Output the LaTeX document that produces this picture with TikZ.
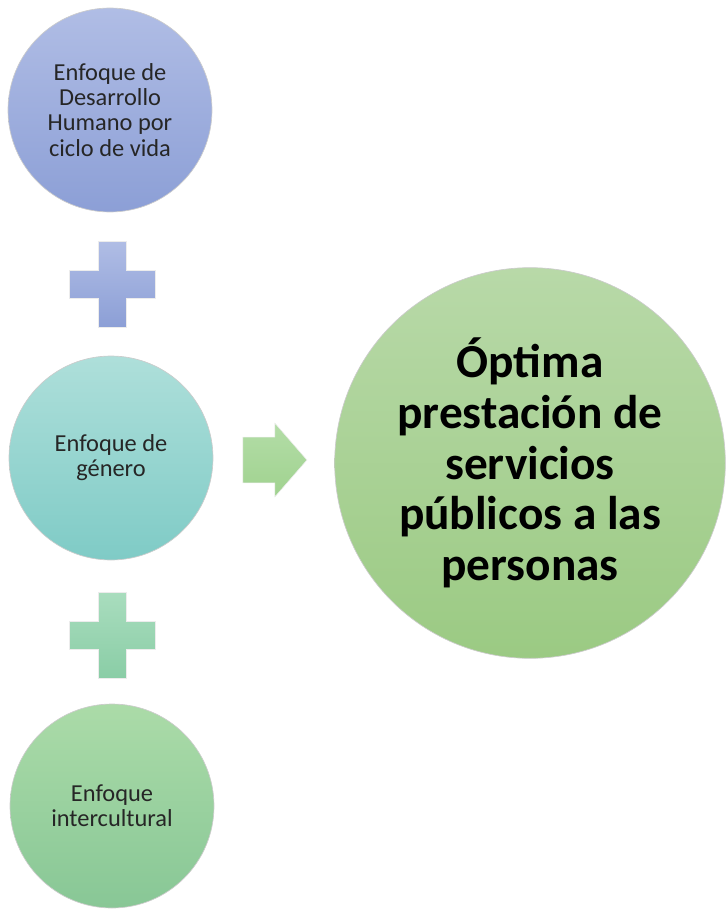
\documentclass[tikz,border=0pt]{standalone}
\usepackage{fontspec}
\setmainfont{Carlito}
\usetikzlibrary{positioning,shapes.arrows}

\definecolor{blueTop}{HTML}{B0BDE5}
\definecolor{blueBot}{HTML}{8C9FD6}
\definecolor{tealTop}{HTML}{AEDFDA}
\definecolor{tealBot}{HTML}{7FCBC6}
\definecolor{mintTop}{HTML}{A9DDBE}
\definecolor{mintBot}{HTML}{8ACDA6}
\definecolor{greenTop}{HTML}{ABDBA8}
\definecolor{greenBot}{HTML}{88C796}
\definecolor{goalTop}{HTML}{B8D9A8}
\definecolor{goalBot}{HTML}{9BCA83}
\definecolor{arrowTop}{HTML}{B3DDA7}
\definecolor{arrowBot}{HTML}{A0D28F}

\tikzset{
  stage/.style={circle, draw=gray!40, line width=0.5pt, minimum size=153pt,
    inner sep=0pt, align=center, text=black!85,
    font=\fontsize{18.3}{18.9}\selectfont},
  goal/.style={circle, draw=gray!40, line width=0.5pt, minimum size=293pt,
    inner sep=0pt, align=center, text=black,
    font=\fontsize{35.5}{38}\selectfont\bfseries},
  plussign/.style={draw=white!85!gray, line width=0.4pt}
}

\begin{document}
\begin{tikzpicture}[x=0.75pt, y=-0.75pt]
    \useasboundingbox (0,0) rectangle (726,909);

    \node (humano) [stage, top color=blueTop, bottom color=blueBot] at (110,110)
        {Enfoque de\\Desarrollo\\Humano por\\ciclo de vida};
    \node (genero) [stage, top color=tealTop, bottom color=tealBot] at (111,458)
        {Enfoque de\\género};
    \node (intercult) [stage, top color=greenTop, bottom color=greenBot] at (112,806)
        {Enfoque\\intercultural};
    \node (goal) [goal, top color=goalTop, bottom color=goalBot] at (530,463)
        {Óptima\\prestación de\\servicios\\públicos a las\\personas};

    % plus signs between the circles
    \coordinate (plusA) at (112,284);
    \coordinate (plusB) at (112,635);
    \path[plussign, top color=blueTop, bottom color=blueBot]
        (plusA) ++(-14,-43) -- ++(28,0) -- ++(0,29) -- ++(29,0) -- ++(0,28)
        -- ++(-29,0) -- ++(0,29) -- ++(-28,0) -- ++(0,-29) -- ++(-29,0)
        -- ++(0,-28) -- ++(29,0) -- cycle;
    \path[plussign, top color=mintTop, bottom color=mintBot]
        (plusB) ++(-14,-43) -- ++(28,0) -- ++(0,29) -- ++(29,0) -- ++(0,28)
        -- ++(-29,0) -- ++(0,29) -- ++(-28,0) -- ++(0,-29) -- ++(-29,0)
        -- ++(0,-28) -- ++(29,0) -- cycle;

    % block arrow towards the goal
    \node (arrow) [single arrow, draw=white!85!gray, line width=0.4pt,
        top color=arrowTop, bottom color=arrowBot,
        minimum height=48pt, inner xsep=0pt, inner ysep=16.9pt,
        single arrow head extend=10.5pt, single arrow tip angle=98]
        at (265,460) {};
\end{tikzpicture}
\end{document}
